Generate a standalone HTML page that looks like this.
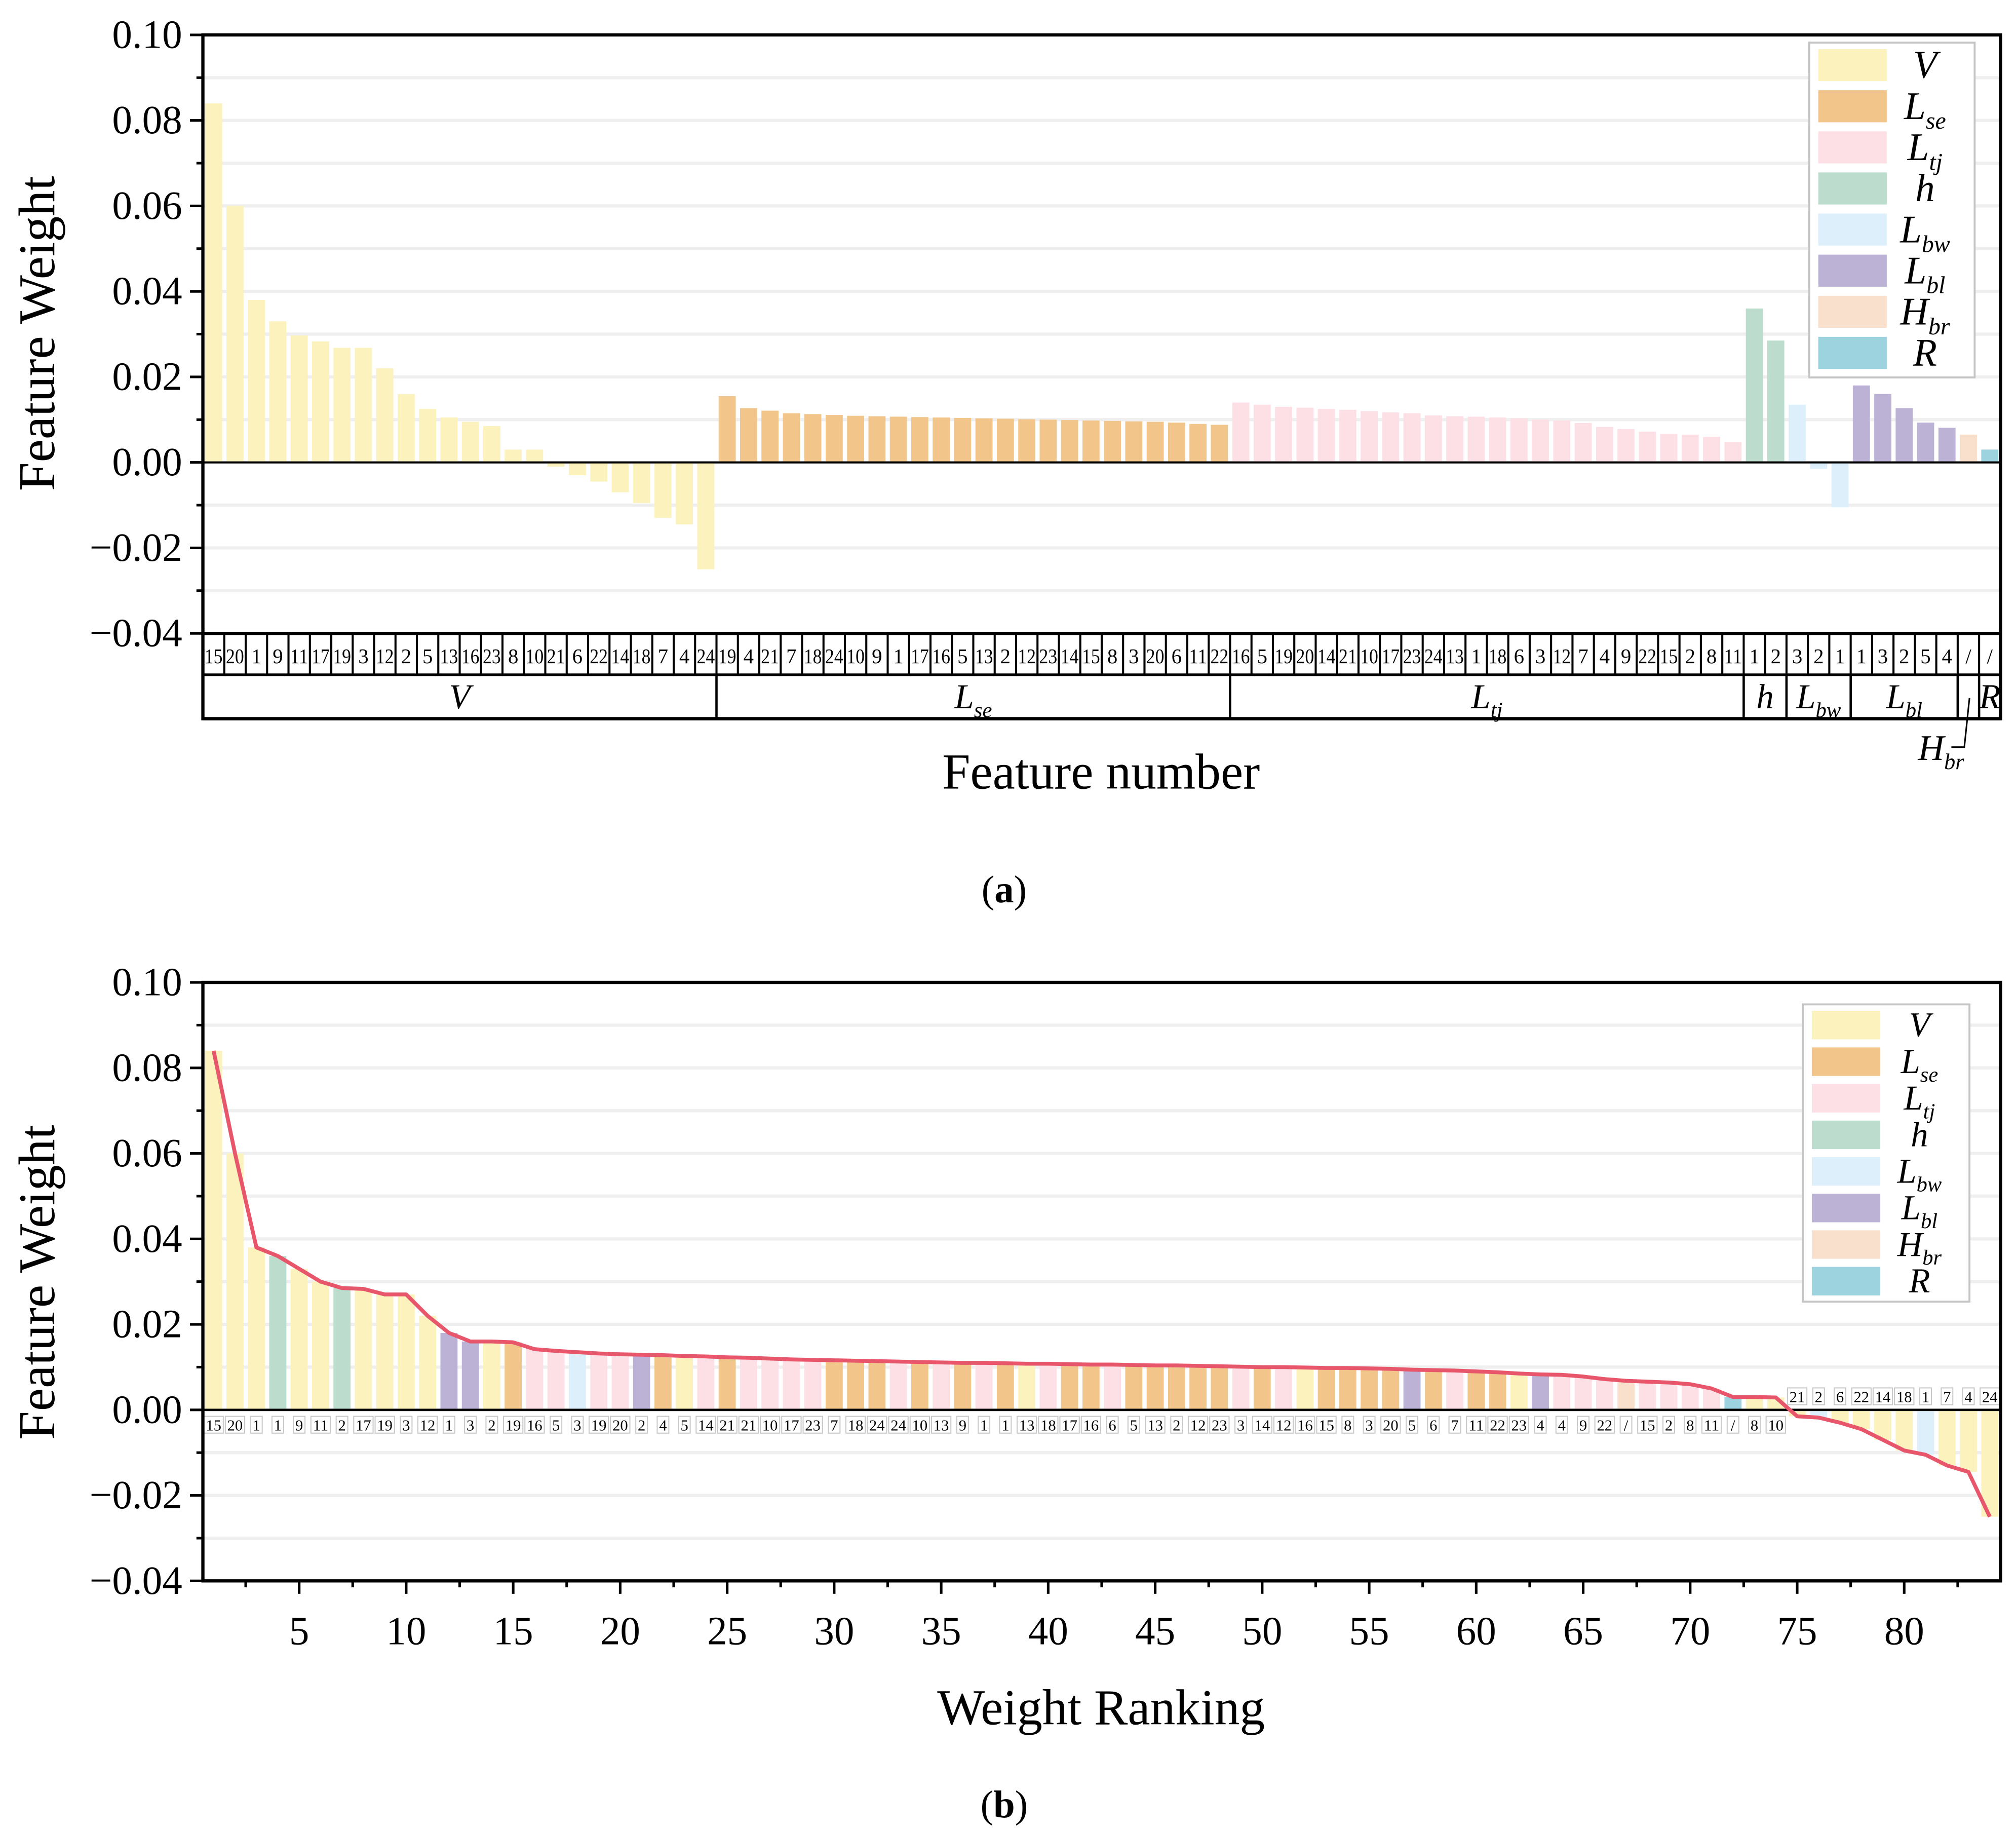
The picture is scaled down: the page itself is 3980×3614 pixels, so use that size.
<!DOCTYPE html>
<html><head><meta charset="utf-8">
<style>
html,body{margin:0;padding:0;background:#fff;}
svg{display:block;}
text{font-family:"Liberation Serif",serif;fill:#000;}
</style></head>
<body>
<svg id="fig" width="3980" height="3614" viewBox="0 0 1560 1416.5" preserveAspectRatio="none" xmlns="http://www.w3.org/2000/svg"></svg>
<script>
// ---------- data (a): features grouped ----------
const groupNames = ["V","Lse","Ltj","h","Lbw","Lbl","Hbr","R"];
const featLabelsV   = ["15","20","1","9","11","17","19","3","12","2","5","13","16","23","8","10","21","6","22","14","18","7","4","24"];
const featValuesV   = [0.084,0.060,0.038,0.033,0.0297,0.0283,0.0268,0.0268,0.022,0.016,0.0125,0.0105,0.0095,0.0085,0.003,0.003,-0.001,-0.003,-0.0045,-0.007,-0.0095,-0.013,-0.0145,-0.025];
const featLabelsLse = ["19","4","21","7","18","24","10","9","1","17","16","5","13","2","12","23","14","15","8","3","20","6","11","22"];
const featValuesLse = [0.0155,0.0127,0.0121,0.0115,0.0113,0.0111,0.0109,0.0108,0.0107,0.0106,0.0105,0.0104,0.0103,0.0102,0.0101,0.0100,0.0099,0.0098,0.0097,0.0096,0.0095,0.0093,0.0090,0.0088];
const featLabelsLtj = ["16","5","19","20","14","21","10","17","23","24","13","1","18","6","3","12","7","4","9","22","15","2","8","11"];
const featValuesLtj = [0.0140,0.0135,0.0130,0.0128,0.0125,0.0123,0.0120,0.0117,0.0115,0.0110,0.0108,0.0107,0.0105,0.0103,0.0100,0.0098,0.0092,0.0083,0.0078,0.0072,0.0067,0.0065,0.0060,0.0048];
const featLabelsH   = ["1","2"];
const featValuesH   = [0.036,0.0285];
const featLabelsLbw = ["3","2","1"];
const featValuesLbw = [0.0135,-0.0015,-0.0105];
const featLabelsLbl = ["1","3","2","5","4"];
const featValuesLbl = [0.018,0.016,0.0127,0.0093,0.0081];
const featLabelsHbr = ["/"];
const featValuesHbr = [0.0065];
const featLabelsR   = ["/"];
const featValuesR   = [0.003];

// ---------- data (b): ranking ----------
const rankLabels = ["15","20","1","1","9","11","2","17","19","3","12","1","3","2","19","16","5","3","19","20","2","4","5","14","21","21","10","17","23","7","18","24","24","10","13","9","1","1","13","18","17","16","6","5","13","2","12","23","3","14","12","16","15","8","3","20","5","6","7","11","22","23","4","4","9","22","/","15","2","8","11","/","8","10","21","2","6","22","14","18","1","7","4","24"];
const rankGroups = ["V","V","V","h","V","V","h","V","V","V","V","Lbl","Lbl","V","Lse","Ltj","Ltj","Lbw","Ltj","Ltj","Lbl","Lse","V","Ltj","Lse","Ltj","Ltj","Ltj","Ltj","Lse","Lse","Lse","Ltj","Lse","Ltj","Lse","Ltj","Lse","V","Ltj","Lse","Lse","Ltj","Lse","Lse","Lse","Lse","Lse","Ltj","Lse","Ltj","V","Lse","Lse","Lse","Lse","Lbl","Lse","Ltj","Lse","Lse","V","Lbl","Ltj","Ltj","Ltj","Hbr","Ltj","Ltj","Ltj","Ltj","R","V","V","V","Lbw","V","V","V","V","Lbw","V","V","V"];
const rankValues = [0.084,0.060,0.038,0.036,0.033,0.030,0.0285,0.0283,0.027,0.027,0.022,0.018,0.016,0.016,0.0158,0.0142,0.0138,0.0135,0.0132,0.0130,0.0129,0.0128,0.0126,0.0125,0.0123,0.0122,0.0120,0.0118,0.0117,0.0116,0.0115,0.0114,0.0113,0.0112,0.0111,0.0110,0.0110,0.0109,0.0108,0.0108,0.0107,0.0106,0.0106,0.0105,0.0104,0.0104,0.0103,0.0102,0.0101,0.0100,0.0100,0.0099,0.0098,0.0098,0.0097,0.0096,0.0094,0.0093,0.0092,0.0090,0.0088,0.0085,0.0083,0.0082,0.0078,0.0072,0.0068,0.0066,0.0064,0.0060,0.0050,0.0030,0.0030,0.0029,-0.0015,-0.0018,-0.003,-0.0045,-0.007,-0.0095,-0.0105,-0.013,-0.0145,-0.025];
const yTicks = [0.10,0.08,0.06,0.04,0.02,0.00,-0.02,-0.04];
const yTickLabels = ["0.10","0.08","0.06","0.04","0.02","0.00","\u22120.02","\u22120.04"];
const xTicksB = [5,10,15,20,25,30,35,40,45,50,55,60,65,70,75,80];

const colors = {V:"#fbf2be",Lse:"#f2c68b",Ltj:"#fde0e6",h:"#bcdccd",Lbw:"#ddeffb",Lbl:"#bcb2d6",Hbr:"#f9e0cc",R:"#9cd3df"};
const subs = {V:["V",""],Lse:["L","se"],Ltj:["L","tj"],h:["h",""],Lbw:["L","bw"],Lbl:["L","bl"],Hbr:["H","br"],R:["R",""]};

const svg = document.getElementById('fig');
const NS = "http://www.w3.org/2000/svg";
function mk(tag, attrs, parent){
  const e = document.createElementNS(NS, tag);
  for (const k in attrs) e.setAttribute(k, attrs[k]);
  (parent||svg).appendChild(e);
  return e;
}
const X0 = 157, X1 = 1548, N = 84, slot = (X1-X0)/N, bw = slot*0.8;
const yMin = -0.04, yMax = 0.10;

function makeY(top, bottom){ return v => bottom - (v - yMin)/(yMax - yMin)*(bottom - top); }
function xCenter(i){ return X0 + slot*(i+0.5); }

function italicLabel(parent, key, x, y, size, name){
  const t = mk('text',{x:x,y:y,'font-size':size,'font-style':'italic','text-anchor':'middle'},parent);
  
  
  const s = subs[key];
  const m = mk('tspan',{},t); m.textContent = s[0];
  if (s[1]) { const b = mk('tspan',{'font-size':size*0.62,dy:size*0.25},t); b.textContent = s[1]; }
  return t;
}

function drawAxesY(g, top, bottom, y){
  for (let v=-0.04; v<=0.1001; v+=0.01){
    const yy = y(v);
    const gl = mk('line',{x1:X0,x2:X1,y1:yy,y2:yy,stroke:'#efefef','stroke-width':2.5},g);
    
    
    const major = Math.abs(Math.round(v*100))%2===0;
    const tk = mk('line',{x1:X0-(major?10:5),x2:X0,y1:yy,y2:yy,stroke:'#000','stroke-width':2},g);
    
    
  }
  yTicks.forEach((v,i)=>{
    const t = mk('text',{x:X0-16,y:y(v)+10,'font-size':31,'text-anchor':'end'},g);
    
    
    t.textContent = yTickLabels[i];
  });
}

function legend(g, x, y, w, h, rowH, sw, name){
  const lg = mk('g',{},g);
  
  
  mk('rect',{x:x,y:y,width:w,height:h,fill:'#fff',stroke:'#c4c4c4','stroke-width':1.5},lg);
  groupNames.forEach((k,i)=>{
    const r = mk('rect',{x:x+7,y:y+5+i*rowH,width:sw,height:rowH*0.78,fill:colors[k]},lg);
    
    
    italicLabel(lg, k, x+w*0.7, y+5+i*rowH+rowH*0.7, rowH*0.95, 'legend-label-'+k.toLowerCase());
  });
}

// ================= Panel (a) =================
(function(){
  const gA = mk('g',{});  
  const top=27, bottom=490, y=makeY(top,bottom);
  drawAxesY(gA, top, bottom, y);
  const groups = [["V",featLabelsV,featValuesV],["Lse",featLabelsLse,featValuesLse],["Ltj",featLabelsLtj,featValuesLtj],["h",featLabelsH,featValuesH],["Lbw",featLabelsLbw,featValuesLbw],["Lbl",featLabelsLbl,featValuesLbl],["Hbr",featLabelsHbr,featValuesHbr],["R",featLabelsR,featValuesR]];
  let idx = 0; const bounds=[];
  groups.forEach(([k,labels,vals])=>{
    const start = idx;
    vals.forEach((v,j)=>{
      const cx = xCenter(idx);
      const r = mk('rect',{x:cx-bw/2,y:Math.min(y(v),y(0)),width:bw,height:Math.abs(y(v)-y(0)),fill:colors[k]},gA);
      
      
      const t = mk('text',{x:cx,y:513,'font-size':16,'text-anchor':'middle'},gA);
      if (labels[j].length>1){ t.setAttribute('textLength',14); t.setAttribute('lengthAdjust','spacingAndGlyphs'); }
      
      
      t.textContent = labels[j];
      if (idx>0){ const l = mk('line',{x1:X0+slot*idx,x2:X0+slot*idx,y1:490,y2:522,stroke:'#000','stroke-width':1.6},gA);   }
      idx++;
    });
    bounds.push([k,start,idx]);
  });
  const z = mk('line',{x1:X0,x2:X1,y1:y(0),y2:y(0),stroke:'#000','stroke-width':1.6},gA);
   
  [[490,2.5],[522,2],[556,2.5]].forEach(([yy,w])=>{ const l=mk('line',{x1:X0,x2:X1,y1:yy,y2:yy,stroke:'#000','stroke-width':w},gA);   });
  bounds.forEach(([k,s,e],i)=>{
    if (i>0){ const l=mk('line',{x1:X0+slot*s,x2:X0+slot*s,y1:522,y2:556,stroke:'#000','stroke-width':1.8},gA);   }
    if (k!=="Hbr") italicLabel(gA, k, X0+slot*(s+e)/2, 548, 27, 'group-label-'+k.toLowerCase());
  });
  const ann = mk('polyline',{points:"1524,540 1520,578 1510,578",fill:'none',stroke:'#000','stroke-width':1.2},gA);
   
  italicLabel(gA,'Hbr',1502,588,28,'hbr-annotation');
  const f = mk('rect',{x:X0,y:top,width:X1-X0,height:556-top,fill:'none',stroke:'#000','stroke-width':2.5},gA);
   
  legend(gA,1400,33,128,259,31.8,53,'legend-a');
  const yt = mk('text',{x:42,y:258,'font-size':40,'text-anchor':'middle',transform:'rotate(-90 42 258)'},gA);
    yt.textContent='Feature Weight';
  const xt = mk('text',{x:852,y:610,'font-size':39,'text-anchor':'middle'},gA);
    xt.textContent='Feature number';
  const cap = mk('text',{x:777,y:698,'font-size':30,'text-anchor':'middle'},gA);
   
  cap.innerHTML = '(<tspan font-weight="bold">a</tspan>)';
})();

// ================= Panel (b) =================
(function(){
  const gB = mk('g',{});  
  const top=760, bottom=1223, y=makeY(top,bottom);
  drawAxesY(gB, top, bottom, y);
  const pts=[];
  rankValues.forEach((v,i)=>{
    const cx = xCenter(i), k = rankGroups[i];
    const r = mk('rect',{x:cx-bw/2,y:Math.min(y(v),y(0)),width:bw,height:Math.abs(y(v)-y(0)),fill:colors[k]},gB);
    
    
    pts.push(cx.toFixed(2)+','+y(v).toFixed(2));
  });
  const z = mk('line',{x1:X0,x2:X1,y1:y(0),y2:y(0),stroke:'#000','stroke-width':1.8},gB);
   
  rankLabels.forEach((lab,i)=>{
    const cx = xCenter(i), neg = rankValues[i] < 0;
    const w = lab.length>1 ? 15 : 9;
    const by = neg ? y(0)-17 : y(0)+5;
    const b = mk('rect',{x:cx-w/2,y:by,width:w,height:13,fill:'#fff',stroke:'#c8c8c8','stroke-width':0.8},gB);
     
    const t = mk('text',{x:cx,y:by+11,'font-size':12,'text-anchor':'middle'},gB);
    if (lab.length>1){ t.setAttribute('textLength',12); t.setAttribute('lengthAdjust','spacingAndGlyphs'); }
     
    t.textContent = lab;
  });
  const line = mk('polyline',{points:pts.join(' '),fill:'none',stroke:'#e8566b','stroke-width':3,'stroke-linejoin':'round'},gB);
   
  for (let r=2.5; r<=84; r+=2.5){
    const xx = xCenter(r-1), major = r%5===0;
    const tk = mk('line',{x1:xx,x2:xx,y1:bottom,y2:bottom+(major?10:5),stroke:'#000','stroke-width':2},gB);
     
  }
  xTicksB.forEach(r=>{
    const t = mk('text',{x:xCenter(r-1),y:1272,'font-size':31,'text-anchor':'middle'},gB);
     
    t.textContent = r;
  });
  const f = mk('rect',{x:X0,y:top,width:X1-X0,height:bottom-top,fill:'none',stroke:'#000','stroke-width':2.5},gB);
   
  legend(gB,1395,777,129,230,28.3,53,'legend-b');
  const yt = mk('text',{x:42,y:992,'font-size':40,'text-anchor':'middle',transform:'rotate(-90 42 992)'},gB);
    yt.textContent='Feature Weight';
  const xt = mk('text',{x:852,y:1334,'font-size':39,'text-anchor':'middle'},gB);
    xt.textContent='Weight Ranking';
  const cap = mk('text',{x:777,y:1406,'font-size':30,'text-anchor':'middle'},gB);
   
  cap.innerHTML = '(<tspan font-weight="bold">b</tspan>)';
})();
</script>
</body></html>
